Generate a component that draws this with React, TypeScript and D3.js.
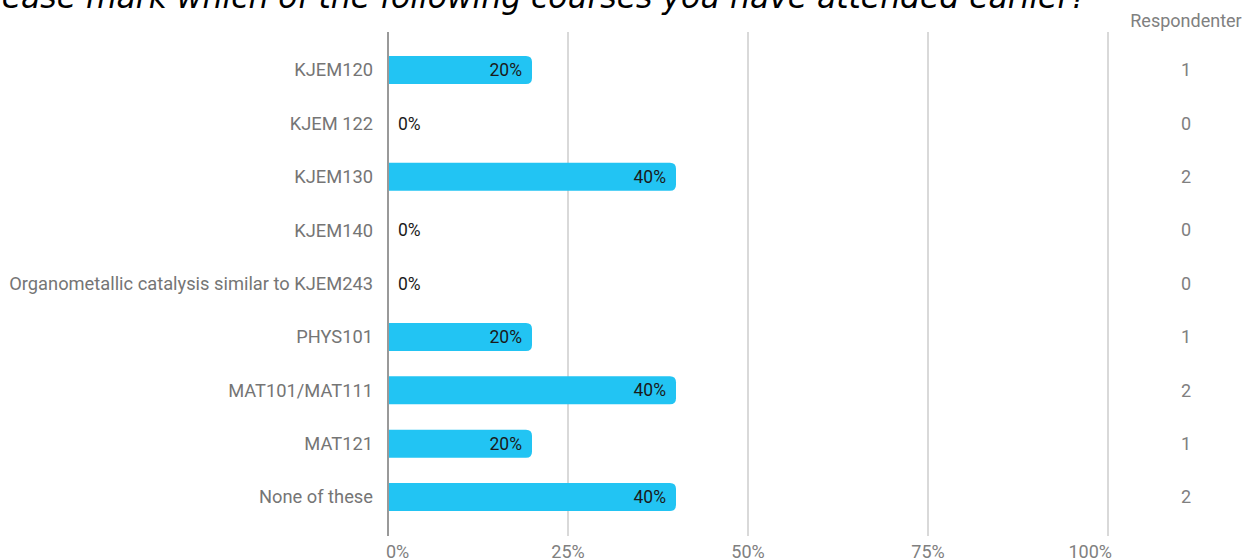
import React from "react";
import * as d3 from "d3";

const categories = [
  "KJEM120",
  "KJEM 122",
  "KJEM130",
  "KJEM140",
  "Organometallic catalysis similar to KJEM243",
  "PHYS101",
  "MAT101/MAT111",
  "MAT121",
  "None of these",
];
const percents = [20, 0, 40, 0, 0, 20, 40, 20, 40];
const respondents = [1, 0, 2, 0, 0, 1, 2, 1, 2];
const xTicks = [0, 25, 50, 75, 100];
const title = "Please mark which of the following courses you have attended earlier?";
const countHeader = "Respondenter";

const W = 1245;
const H = 560;

function barPath(x0: number, x1: number, y: number, h: number, r: number) {
  if (x1 - x0 <= 0) return "";
  const rr = Math.min(r, (x1 - x0) / 2, h / 2);
  return `M${x0},${y}H${x1 - rr}Q${x1},${y} ${x1},${y + rr}V${y + h - rr}Q${x1},${y + h} ${x1 - rr},${y + h}H${x0}Z`;
}

export default function App() {
  const x = d3.scaleLinear().domain([0, 100]).range([388, 1108]);
  const y = d3.scalePoint<string>().domain(categories).range([70, 497]);
  const barH = 28;
  const font = "Roboto, 'Noto Sans', sans-serif";
  return (
    <svg
      width={W}
      height={H}
      style={{ position: "absolute", left: 0, top: 0, background: "#fff" }}
    >
      <text
        x={1087}
        y={8}
        textAnchor="end"
        fontFamily="'DejaVu Sans', sans-serif"
        fontStyle="italic"
        fontSize={31.4}
        fill="#000"
      >
        {title}
      </text>
      {xTicks.slice(1).map((t) => (
        <line key={t} x1={x(t)} x2={x(t)} y1={32} y2={536} stroke="#cccccc" strokeWidth={1.5} />
      ))}
      {categories.map((c, i) => {
        const cy = y(c)!;
        const p = percents[i];
        return (
          <g key={c}>
            <path d={barPath(x(0), x(p), cy - barH / 2, barH, 6)} fill="#22c4f3" />
            <text
              x={373}
              y={cy}
              dy="0.35em"
              textAnchor="end"
              fontFamily={font}
              fontSize={18.3}
              fill="#757575"
            >
              {c}
            </text>
            <text
              x={p > 0 ? x(p) - 10 : x(0) + 10}
              y={cy}
              dy="0.35em"
              textAnchor={p > 0 ? "end" : "start"}
              fontFamily={font}
              fontSize={17.5}
              fill="#1a1a1a"
            >
              {p + "%"}
            </text>
            <text
              x={1186}
              y={cy}
              dy="0.35em"
              textAnchor="middle"
              fontFamily={font}
              fontSize={18}
              fill="#808080"
            >
              {respondents[i]}
            </text>
          </g>
        );
      })}
      <line x1={x(0)} x2={x(0)} y1={32} y2={536} stroke="#999999" strokeWidth={2} />
      {xTicks.map((t, i) => (
        <text
          key={t}
          x={i === 0 ? x(t) - 2 : i === xTicks.length - 1 ? x(t) + 4 : x(t)}
          y={558}
          textAnchor={i === 0 ? "start" : i === xTicks.length - 1 ? "end" : "middle"}
          fontFamily={font}
          fontSize={18}
          fill="#808080"
        >
          {t + "%"}
        </text>
      ))}
      <text
        x={1186}
        y={27}
        textAnchor="middle"
        fontFamily={font}
        fontSize={18}
        fill="#808080"
      >
        {countHeader}
      </text>
    </svg>
  );
}
